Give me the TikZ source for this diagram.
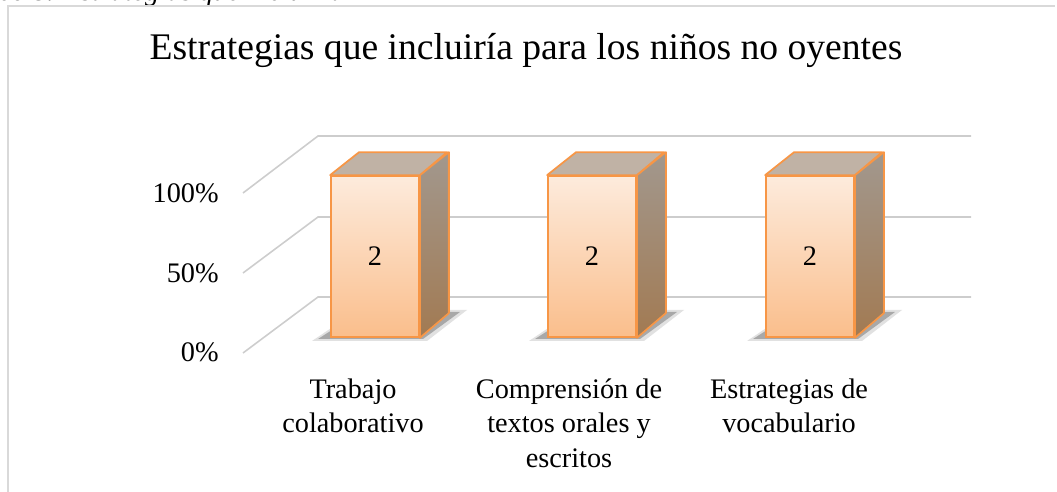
\documentclass[tikz,border=0pt]{standalone}
\usepackage{fontspec}
\setmainfont{Liberation Serif}
\definecolor{gridgray}{RGB}{205,205,205}
\definecolor{framegray}{RGB}{217,217,217}
\definecolor{barorange}{RGB}{247,150,70}
\definecolor{fronttop}{RGB}{253,235,220}
\definecolor{frontbottom}{RGB}{250,190,140}
\definecolor{toptan}{RGB}{192,178,165}
\definecolor{sidetop}{RGB}{162,152,142}
\definecolor{sidebottom}{RGB}{162,122,82}
\begin{document}
\begin{tikzpicture}[
        x=0.02cm, y=-0.02cm,
        frame line/.style={draw=framegray, line width=1.1pt},
        grid line/.style={draw=gridgray, line width=0.9pt},
        axis label/.style={anchor=base east, inner sep=0pt, font=\fontsize{16.1}{19.6}\selectfont},
        cat label/.style={anchor=north, align=center, inner sep=0pt, font=\fontsize{16.1}{19.6}\selectfont},
        chart title/.style={anchor=base, inner sep=0pt, font=\fontsize{21.4}{25}\selectfont},
        caption text/.style={anchor=base east, inner sep=0pt, font=\fontsize{16.1}{19.6}\selectfont\itshape},
        front face/.style={rectangle, draw=barorange, line width=1pt, top color=fronttop, bottom color=frontbottom, minimum width=1.76cm, minimum height=3.22cm, inner sep=0pt, font=\fontsize{16.1}{19.6}\selectfont},
        top face/.style={draw=barorange, line width=1pt, fill=toptan, line join=round},
        side face/.style={draw=barorange, line width=1pt, top color=sidetop, bottom color=sidebottom, line join=round},
        soft shadow/.style={fill=black!80, opacity=0.15},
        hard shadow/.style={fill=black!75, opacity=0.35},
    ]
	\useasboundingbox (0,0) rectangle (1057,492);
	% caption line cut at the top edge
	\begin{scope}
	\clip (0,0) rectangle (1057,6.5);
	\node[caption text] (fig_caption) at (345,1) {Gráfico 8. Estrategias que incluiría};
	\end{scope}
	% chart area
	\draw[frame line] (8,492) -- (8,6) -- (1055,6);
	\node[chart title] (chart_title) at (526,60) {Estrategias que incluiría para los niños no oyentes};
	% walls
	\draw[grid line] (243,193) -- (318,136) -- (971,136);
	\draw[grid line] (243,273) -- (318,217) -- (971,217);
	\draw[grid line] (243,353) -- (318,297) -- (971,297);
	\node[axis label] (tick_100) at (219,203) {100\%};
	\node[axis label] (tick_50) at (219,283) {50\%};
	\node[axis label] (tick_0) at (219,362) {0\%};
	% shadows
	\fill[soft shadow] (312,341) -- (427,341) -- (467,310) -- (358,310) -- cycle;
	\fill[hard shadow] (318,339) -- (423,339) -- (460,312) -- (360,312) -- cycle;
	\fill[soft shadow] (529,341) -- (644,341) -- (684,310) -- (575,310) -- cycle;
	\fill[hard shadow] (535,339) -- (640,339) -- (677,312) -- (577,312) -- cycle;
	\fill[soft shadow] (747,341) -- (862,341) -- (902,310) -- (793,310) -- cycle;
	\fill[hard shadow] (753,339) -- (858,339) -- (895,312) -- (795,312) -- cycle;
	% bars
	\node[front face] (bar_1) at (375,256.5) {2};
	\draw[side face] (bar_1.north east) -- ++(29,-23) -- ++(0,161) -- (bar_1.south east) -- cycle;
	\draw[top face] (bar_1.north west) -- ++(29,-23) -- ++(88,0) -- (bar_1.north east) -- cycle;
	\node[front face] (bar_2) at (592,256.5) {2};
	\draw[side face] (bar_2.north east) -- ++(29,-23) -- ++(0,161) -- (bar_2.south east) -- cycle;
	\draw[top face] (bar_2.north west) -- ++(29,-23) -- ++(88,0) -- (bar_2.north east) -- cycle;
	\node[front face] (bar_3) at (810,256.5) {2};
	\draw[side face] (bar_3.north east) -- ++(29,-23) -- ++(0,161) -- (bar_3.south east) -- cycle;
	\draw[top face] (bar_3.north west) -- ++(29,-23) -- ++(88,0) -- (bar_3.north east) -- cycle;
	% categories
	\node[cat label] (cat_1) at (353,378.5) {Trabajo\\colaborativo};
	\node[cat label] (cat_2) at (569,378.5) {Comprensión de\\textos orales y\\escritos};
	\node[cat label] (cat_3) at (789,378.5) {Estrategias de\\vocabulario};
    \end{tikzpicture}
\end{document}
